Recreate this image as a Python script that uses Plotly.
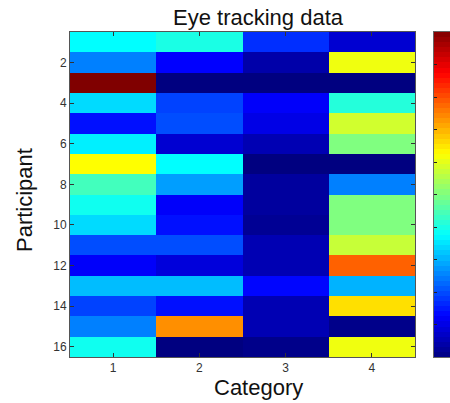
import plotly.graph_objects as go

# Normalised fixation measure per participant (rows) and category (columns)
participants = list(range(1, 17))
categories = [1, 2, 3, 4]
cat1 = [0.375, 0.25, 1.00, 0.34, 0.14, 0.36, 0.625, 0.44, 0.39, 0.34, 0.20, 0.12, 0.31, 0.19, 0.25, 0.39]
cat2 = [0.40, 0.125, 0.00, 0.19, 0.20, 0.08, 0.375, 0.28, 0.12, 0.14, 0.20, 0.09, 0.31, 0.14, 0.735, 0.00]
cat3 = [0.17, 0.04, 0.00, 0.12, 0.10, 0.05, 0.00, 0.03, 0.03, 0.02, 0.05, 0.05, 0.13, 0.05, 0.05, 0.01]
cat4 = [0.08, 0.61, 0.00, 0.41, 0.58, 0.50, 0.00, 0.25, 0.50, 0.50, 0.57, 0.78, 0.30, 0.655, 0.01, 0.61]
y_ticks = [2, 4, 6, 8, 10, 12, 14, 16]
cbar_ticks = [0.1, 0.2, 0.3, 0.4, 0.5, 0.6, 0.7, 0.8, 0.9]
n_levels = 64  # number of colormap steps shown in the colour bar

z = [list(row) for row in zip(cat1, cat2, cat3, cat4)]

# MATLAB-style jet colormap
jet = [
    [0.0, "rgb(0,0,128)"],
    [0.125, "rgb(0,0,255)"],
    [0.375, "rgb(0,255,255)"],
    [0.625, "rgb(255,255,0)"],
    [0.875, "rgb(255,0,0)"],
    [1.0, "rgb(128,0,0)"],
]

# colour-bar strip: one cell per colormap level
levels = [(i + 0.5) / n_levels for i in range(n_levels)]

FONT = "Liberation Sans, Arial, Helvetica, sans-serif"
W, H = 450, 403
ML, MT, MB = 70, 32, 46
plot_w = W - ML
x_dom_end = 345 / plot_w
cbar_x = (434 - ML) / plot_w

fig = go.Figure()
fig.add_trace(go.Heatmap(
    x=categories, y=participants, z=z,
    zmin=0, zmax=1, colorscale=jet, showscale=False,
    xaxis="x", yaxis="y",
))
fig.add_trace(go.Heatmap(
    x=[0], y=levels, z=[[v] for v in levels],
    zmin=0, zmax=1, colorscale=jet, showscale=False,
    xaxis="x2", yaxis="y2", hoverinfo="skip",
))

axis_common = dict(
    showline=True, linecolor="#555", linewidth=1, mirror="ticks",
    ticks="inside", ticklen=4, tickcolor="#333", tickwidth=1,
    showgrid=False, zeroline=False,
    tickfont=dict(family=FONT, size=12, color="#333"),
)

fig.update_layout(
    width=W, height=H,
    margin=dict(l=ML, r=0, t=MT, b=MB, autoexpand=False),
    paper_bgcolor="white", plot_bgcolor="white",
    showlegend=False,
    xaxis=dict(domain=[0, x_dom_end], range=[0.5, 4.5], tickvals=categories, **axis_common),
    yaxis=dict(range=[16.5, 0.5], tickvals=y_ticks, **axis_common),
    xaxis2=dict(
        domain=[cbar_x, 1.0], anchor="y2", range=[-0.5, 0.5],
        showline=True, mirror=True, linecolor="#666", linewidth=1,
        ticks="", showticklabels=False, showgrid=False, zeroline=False,
    ),
    yaxis2=dict(
        domain=[0, 1], anchor="x2", side="left", range=[0, 1],
        tickvals=cbar_ticks, ticks="inside", ticklen=3, tickcolor="#222",
        showticklabels=False, showline=True, linecolor="#666", linewidth=1,
        showgrid=False, zeroline=False,
    ),
    annotations=[
        dict(text="Eye tracking data", xref="paper", yref="paper",
             x=(258 - ML) / plot_w, y=1, xanchor="center", yanchor="bottom",
             yshift=0, showarrow=False,
             font=dict(family=FONT, size=22, color="#111")),
        dict(text="Category", xref="paper", yref="paper",
             x=(258 - ML) / plot_w, y=0, xanchor="center", yanchor="top",
             yshift=-16, showarrow=False,
             font=dict(family=FONT, size=22, color="#111")),
        dict(text="Participant", xref="paper", yref="paper",
             x=0, y=1 - (200 - MT) / (H - MT - MB), xanchor="center", yanchor="middle",
             xshift=24 - ML, textangle=-90, showarrow=False,
             font=dict(family=FONT, size=22, color="#111")),
    ],
)

fig.write_html("out.html")
